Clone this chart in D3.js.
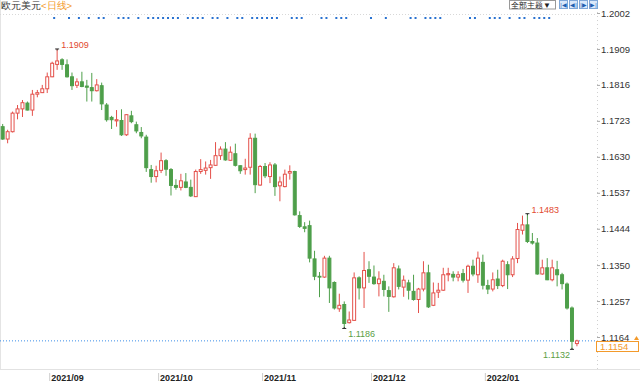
<!DOCTYPE html>
<html>
<head>
<meta charset="utf-8">
<script src="https://cdn.jsdelivr.net/npm/d3@7"></script>
<style>
  body { margin: 0; background: #fff; }
  svg { display: block; font-family: "Liberation Sans", Arial, sans-serif; }
</style>
</head>
<body>
<div id="chart"></div>
<script>
// EUR/USD daily candles, 2021-08-19 .. 2022-01-28
const opens = [1.1708,1.1676,1.1695,1.1743,1.1754,1.1769,1.1751,1.1792,1.1796,1.1806,
  1.1837,1.1869,1.1881,1.1868,1.1837,1.1815,1.1824,1.1813,1.1809,1.1801,
  1.1814,1.1764,1.1732,1.1723,1.1724,1.1687,1.1736,1.1713,1.1693,1.1681,
  1.1597,1.1579,1.1595,1.1620,1.1597,1.1556,1.1551,1.1565,1.1551,1.1527,
  1.1592,1.1595,1.1602,1.1608,1.1633,1.1650,1.1621,1.1638,1.1607,1.1597,
  1.1603,1.1678,1.1557,1.1605,1.1579,1.1609,1.1555,1.1553,1.1588,1.1592,
  1.1478,1.1449,1.1452,1.1366,1.1321,1.1319,1.1368,1.1305,1.1237,1.1248,
  1.1201,1.1207,1.1317,1.1291,1.1338,1.1319,1.1302,1.1308,1.1284,1.1268,
  1.1340,1.1293,1.1304,1.1282,1.1261,1.1288,1.1330,1.1246,1.1280,1.1285,
  1.1325,1.1326,1.1319,1.1328,1.1311,1.1347,1.1325,1.1357,1.1297,1.1288,
  1.1314,1.1297,1.1351,1.1325,1.1367,1.1440,1.1454,1.1411,1.1407,1.1327,
  1.1343,1.1312,1.1338,1.1325,1.1301,1.1239,1.1147];
const highs = [1.1715,1.1700,1.1747,1.1764,1.1777,1.1773,1.1803,1.1803,1.1816,1.1848,
  1.1876,1.1909,1.1885,1.1882,1.1848,1.1833,1.1850,1.1829,1.1847,1.1831,
  1.1822,1.1769,1.1736,1.1751,1.1753,1.1740,1.1749,1.1721,1.1707,1.1687,
  1.1609,1.1607,1.1641,1.1624,1.1601,1.1572,1.1586,1.1588,1.1571,1.1597,
  1.1624,1.1618,1.1622,1.1668,1.1657,1.1668,1.1657,1.1664,1.1608,1.1625,
  1.1691,1.1690,1.1609,1.1614,1.1616,1.1614,1.1579,1.1597,1.1608,1.1594,
  1.1489,1.1461,1.1465,1.1387,1.1332,1.1374,1.1374,1.1308,1.1276,1.1256,
  1.1230,1.1331,1.1321,1.1384,1.1360,1.1349,1.1334,1.1325,1.1295,1.1355,
  1.1349,1.1323,1.1312,1.1325,1.1291,1.1360,1.1351,1.1305,1.1304,1.1343,
  1.1343,1.1334,1.1334,1.1340,1.1351,1.1364,1.1385,1.1377,1.1312,1.1331,
  1.1338,1.1364,1.1360,1.1373,1.1459,1.1478,1.1483,1.1433,1.1420,1.1364,
  1.1368,1.1364,1.1361,1.1330,1.1305,1.1243,1.1157];
const lows = [1.1674,1.1665,1.1693,1.1727,1.1733,1.1750,1.1736,1.1784,1.1795,1.1795,
  1.1836,1.1855,1.1855,1.1835,1.1803,1.1808,1.1810,1.1773,1.1773,1.1799,
  1.1751,1.1721,1.1702,1.1708,1.1684,1.1684,1.1717,1.1691,1.1678,1.1591,
  1.1563,1.1564,1.1588,1.1581,1.1530,1.1545,1.1543,1.1549,1.1526,1.1526,
  1.1586,1.1584,1.1573,1.1607,1.1622,1.1620,1.1620,1.1605,1.1586,1.1584,
  1.1584,1.1536,1.1555,1.1575,1.1562,1.1529,1.1515,1.1551,1.1571,1.1478,
  1.1446,1.1435,1.1357,1.1311,1.1267,1.1317,1.1252,1.1235,1.1229,1.1186,
  1.1199,1.1206,1.1261,1.1239,1.1304,1.1299,1.1269,1.1269,1.1229,1.1266,
  1.1287,1.1268,1.1261,1.1258,1.1226,1.1282,1.1239,1.1244,1.1265,1.1283,
  1.1308,1.1308,1.1308,1.1305,1.1278,1.1321,1.1304,1.1287,1.1275,1.1282,
  1.1288,1.1293,1.1288,1.1319,1.1355,1.1429,1.1407,1.1403,1.1325,1.1325,
  1.1311,1.1308,1.1295,1.1287,1.1235,1.1132,1.1140];
const closes = [1.1676,1.1695,1.1743,1.1754,1.1770,1.1751,1.1792,1.1796,1.1806,1.1837,
  1.1872,1.1878,1.1869,1.1837,1.1814,1.1824,1.1812,1.1810,1.1801,1.1816,
  1.1767,1.1726,1.1726,1.1726,1.1687,1.1739,1.1721,1.1697,1.1684,1.1602,
  1.1579,1.1594,1.1620,1.1598,1.1556,1.1551,1.1568,1.1551,1.1529,1.1592,
  1.1597,1.1601,1.1609,1.1633,1.1650,1.1622,1.1642,1.1608,1.1594,1.1601,
  1.1678,1.1558,1.1605,1.1581,1.1609,1.1553,1.1565,1.1585,1.1592,1.1480,
  1.1450,1.1445,1.1368,1.1321,1.1319,1.1368,1.1291,1.1239,1.1246,1.1199,
  1.1208,1.1317,1.1291,1.1336,1.1321,1.1302,1.1314,1.1287,1.1269,1.1343,
  1.1295,1.1311,1.1285,1.1261,1.1288,1.1330,1.1242,1.1278,1.1285,1.1325,
  1.1328,1.1319,1.1325,1.1311,1.1347,1.1327,1.1368,1.1298,1.1288,1.1312,
  1.1297,1.1360,1.1325,1.1366,1.1442,1.1454,1.1411,1.1407,1.1327,1.1343,
  1.1312,1.1343,1.1325,1.1302,1.1239,1.1153,1.1154];

const yTicks = [1.2002, 1.1909, 1.1816, 1.1723, 1.1630, 1.1537, 1.1444, 1.1350, 1.1257, 1.1164];
const lastPrice = 1.1154;

// high / low call-outs
const marks = [
  {i: 11, v: 1.1909, kind: "high"},
  {i: 69, v: 1.1186, kind: "low"},
  {i: 106, v: 1.1483, kind: "high"},
  {i: 115, v: 1.1132, kind: "low"}
];

// candles that carry a news marker in the strip at the top
const newsIdx = [10,13,15,17,19,20,23,24,25,27,29,30,31,32,33,34,35,37,38,39,40,42,43,45,47,48,
  50,51,52,53,54,55,58,59,60,64,65,67,68,69,74,77,82,83,85,86,87,88,94,95,98,99,100,102,104,105,
  107,108,109,110];

// trading days (weekdays) starting 2021-08-19
const dates = [];
for (let d = new Date(2021, 7, 19); dates.length < opens.length; d.setDate(d.getDate() + 1)) {
  if (d.getDay() !== 0 && d.getDay() !== 6) dates.push(new Date(d));
}

const RED = "#e4504a", GREEN = "#4e9f4a", ORANGE = "#f39a2b";
const W = 640, H = 383, plotRight = 597, plotBottom = 369;

const svg = d3.select("#chart").append("svg").attr("width", W).attr("height", H);

const x = d3.scaleBand().domain(d3.range(opens.length)).range([0.2, 579.4])
  .paddingInner(0.2).paddingOuter(0.1);
const y = d3.scaleLinear().domain([yTicks[yTicks.length - 1], yTicks[0]]).range([337, 13]);
const cx = i => x(i) + x.bandwidth() / 2;

// frame
svg.append("line").attr("x1", 0.5).attr("x2", 0.5).attr("y1", 0).attr("y2", plotBottom)
  .attr("stroke", "#e4e4e4");
svg.append("line").attr("x1", 0).attr("x2", plotRight).attr("y1", 14.5).attr("y2", 14.5)
  .attr("stroke", "#d8d8d8").attr("stroke-dasharray", "1,2");
svg.append("line").attr("x1", 0).attr("x2", W).attr("y1", plotBottom + 0.5).attr("y2", plotBottom + 0.5)
  .attr("stroke", "#e2e2e2");
svg.append("line").attr("x1", plotRight + 0.5).attr("x2", plotRight + 0.5).attr("y1", 0).attr("y2", plotBottom)
  .attr("stroke", "#d0d0d0").attr("stroke-dasharray", "1,3");

// title
const title = svg.append("text").attr("x", 1).attr("y", 9).attr("font-size", 9.5);
title.append("tspan").attr("fill", "#333").text("欧元美元");
title.append("tspan").attr("fill", ORANGE).text("<日线>");

// news markers
svg.append("g").selectAll("rect").data(newsIdx).join("rect")
  .attr("x", i => x(i) + x.bandwidth() - 1).attr("y", 17)
  .attr("width", 2).attr("height", 2).attr("fill", "#2a72d0");

// toolbar top right
const tb = svg.append("g");
tb.append("rect").attr("x", 509.5).attr("y", 0.5).attr("width", 46).attr("height", 8.5)
  .attr("fill", "#fff").attr("stroke", "#999");
tb.append("text").attr("x", 511).attr("y", 8).attr("font-size", 8).attr("fill", "#222").text("全部主题▼");
const glyphs = ["|◀", "◀|", "|▶", "▶|"];
tb.selectAll("g.btn").data(glyphs).join("g").attr("class", "btn")
  .attr("transform", (d, k) => `translate(${559 + k * 10},0)`)
  .each(function(d) {
    const b = d3.select(this);
    b.append("rect").attr("x", 0.5).attr("y", 0.5).attr("width", 8).attr("height", 8)
      .attr("fill", "#d9e8fa").attr("stroke", "#7fa7d8");
    b.append("text").attr("x", 4.5).attr("y", 7).attr("text-anchor", "middle")
      .attr("font-size", 5.5).attr("fill", "#1f5fb0").text(d);
  });

// current price line
svg.append("line").attr("x1", 0).attr("x2", plotRight).attr("y1", y(lastPrice)).attr("y2", y(lastPrice))
  .attr("stroke", "#3b8ee8").attr("stroke-dasharray", "1,2");

// candles
const candles = dates.map((d, i) => ({i, date: d, o: opens[i], h: highs[i], l: lows[i], c: closes[i]}));
const up = d => d.c >= d.o;
const cg = svg.append("g").attr("class", "candles");
cg.selectAll("line").data(candles).join("line")
  .attr("x1", d => cx(d.i)).attr("x2", d => cx(d.i))
  .attr("y1", d => y(d.h)).attr("y2", d => y(d.l))
  .attr("stroke", d => up(d) ? RED : GREEN);
cg.selectAll("rect").data(candles).join("rect")
  .attr("x", d => x(d.i) + 0.5).attr("width", x.bandwidth() - 1)
  .attr("y", d => y(Math.max(d.o, d.c)))
  .attr("height", d => Math.max(0.8, Math.abs(y(d.o) - y(d.c))))
  .attr("fill", d => up(d) ? "#fff" : GREEN)
  .attr("stroke", d => up(d) ? RED : GREEN);

// high / low call-outs
const mg = svg.append("g").selectAll("g").data(marks).join("g");
mg.append("path")
  .attr("d", m => {
    const px = cx(m.i), py = y(m.v), dir = m.kind === "high" ? 1 : -1;
    return `M${px - 2},${py}H${px + 2}M${px},${py}V${py + dir * 1.5}`;
  })
  .attr("stroke", "#333").attr("fill", "none");
mg.append("text")
  .attr("x", m => cx(m.i) > 560 ? cx(m.i) - 2 : cx(m.i) + 4)
  .attr("y", m => m.kind === "high" ? y(m.v) - 0.5 : y(m.v) + 8.5)
  .attr("text-anchor", m => cx(m.i) > 560 ? "end" : "start")
  .attr("font-size", 9)
  .attr("fill", m => m.kind === "high" ? "#e2492f" : "#5a9e45")
  .text(m => m.v.toFixed(4));

// right price axis
const yAxis = svg.append("g").attr("transform", `translate(${plotRight},0)`)
  .call(d3.axisRight(y).tickValues(yTicks).tickSize(3).tickPadding(1).tickFormat(d3.format(".4f")));
yAxis.select(".domain").remove();
yAxis.selectAll(".tick line").attr("stroke", "#aaa");
yAxis.selectAll(".tick text").attr("font-size", 9.5).attr("fill", "#333")
  .attr("font-family", "Liberation Sans, Arial, sans-serif");

// last price box
svg.append("rect").attr("x", 596.5).attr("y", 341.5).attr("width", 42).attr("height", 10)
  .attr("fill", "#fff").attr("stroke", ORANGE);
svg.append("text").attr("x", 600).attr("y", 350).attr("font-size", 9.5).attr("fill", ORANGE)
  .text(lastPrice.toFixed(4));
svg.append("path").attr("d", "M636.5,336 L639,340 L634,340 Z").attr("fill", ORANGE);

// month axis
const monthStarts = candles.filter((d, k) => k > 0 && d.date.getMonth() !== candles[k - 1].date.getMonth());
const xg = svg.append("g").selectAll("g").data(monthStarts).join("g")
  .attr("transform", d => `translate(${x(d.i) + x.bandwidth()},0)`);
xg.append("line").attr("x1", 0.5).attr("x2", 0.5).attr("y1", plotBottom + 4).attr("y2", 381)
  .attr("stroke", "#ccc");
xg.append("text").attr("x", 2).attr("y", 380.5).attr("font-size", 9).attr("font-weight", "bold")
  .attr("fill", "#222").text(d => d3.timeFormat("%Y/%m")(d.date));
</script>
</body>
</html>
